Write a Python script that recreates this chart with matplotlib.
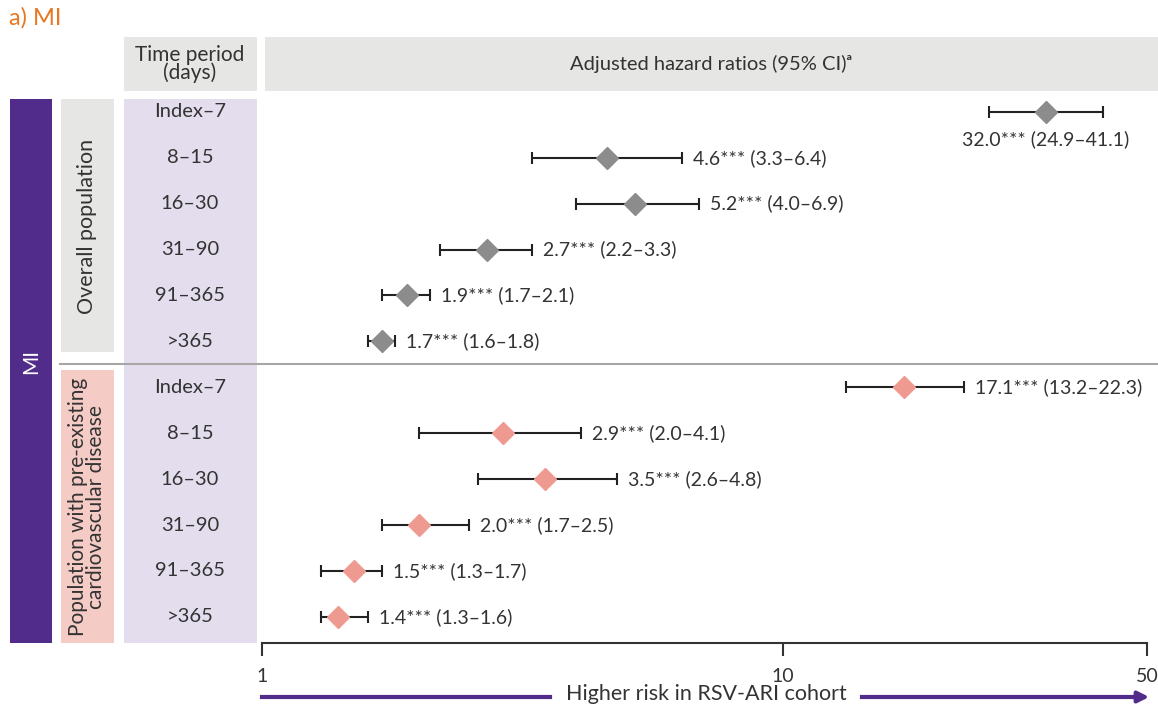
import numpy as np
import matplotlib.pyplot as plt
import matplotlib.transforms as mtrans
from matplotlib.patches import Rectangle

# data
periods = ["Index–7", "8–15", "16–30", "31–90", "91–365", ">365"]
hr_all = [32.0, 4.6, 5.2, 2.7, 1.9, 1.7]
lo_all = [24.9, 3.3, 4.0, 2.2, 1.7, 1.6]
hi_all = [41.1, 6.4, 6.9, 3.3, 2.1, 1.8]
hr_cvd = [17.1, 2.9, 3.5, 2.0, 1.5, 1.4]
lo_cvd = [13.2, 2.0, 2.6, 1.7, 1.3, 1.3]
hi_cvd = [22.3, 4.1, 4.8, 2.5, 1.7, 1.6]
xticks = [1, 10, 50]

W, H = 1158, 706
PURPLE = "#512C8A"
GRAY_BOX = "#E6E6E5"
LAV = "#E3DDEE"
PINK_BOX = "#F5CBC6"
TXT = "#333333"

plt.rcParams['font.family'] = ['Lato', 'DejaVu Sans']

fig = plt.figure(figsize=(W / 100, H / 100), dpi=100)


def fx(x):
    return x / W


def fy(y):
    return 1 - y / H


def box(x0, y0, x1, y1, color):
    fig.add_artist(Rectangle((fx(x0), fy(y1)), fx(x1) - fx(x0), fy(y0) - fy(y1),
                             transform=fig.transFigure, facecolor=color,
                             edgecolor='none', zorder=0))


# background boxes
box(124, 37, 257, 91, GRAY_BOX)
box(265, 37, W, 91, GRAY_BOX)
box(10, 99, 52, 643, PURPLE)
box(61, 99, 114, 352, GRAY_BOX)
box(61, 370, 114, 643, PINK_BOX)
box(124, 99, 257, 643, LAV)

fig.text(fx(9), fy(18), "a) MI", color="#E87722", fontsize=17, va='center')
fig.text(fx(190), fy(64), "Time period\n(days)", ha='center', va='center',
         fontsize=15, color=TXT, linespacing=0.85)
fig.text(fx(711), fy(64), "Adjusted hazard ratios (95% CI)ᵃ", ha='center',
         va='center', fontsize=14.5, color=TXT)
fig.text(fx(31), fy(362), "MI", rotation=90, ha='center', va='center',
         color='white', fontsize=15)
fig.text(fx(87), fy(226), "Overall population", rotation=90, ha='center',
         va='center', fontsize=15.5, color=TXT)
fig.text(fx(87), fy(507), "Population with pre-existing\ncardiovascular disease",
         rotation=90, ha='center', va='center', fontsize=15, color=TXT,
         linespacing=0.85)

# forest plot axes
ax = fig.add_axes([fx(262), fy(643), fx(1147) - fx(262), fy(99) - fy(643)])
ax.set_facecolor('none')
ax.set_xscale('log')
ax.set_xlim(1, 50)
ax.set_ylim(11.57, -0.28)

groups = [(hr_all, lo_all, hi_all, "#8C8C8C", 0),
          (hr_cvd, lo_cvd, hi_cvd, "#EF9A91", 6)]
for hr, lo, hi, col, off in groups:
    ys = np.arange(len(hr)) + off
    hr = np.array(hr)
    err = [hr - np.array(lo), np.array(hi) - hr]
    ax.errorbar(hr, ys, xerr=err, fmt='none', ecolor='#222222', elinewidth=1.5,
                capsize=4.5, capthick=1.5, zorder=2)
    ax.plot(hr, ys, 'D', color=col, markersize=11, zorder=3)
    for i, y in enumerate(ys):
        lab = f"{hr[i]:.1f}*** ({lo[i]:.1f}–{hi[i]:.1f})"
        if hr[i] > 30:
            ax.annotate(lab, xy=(hr[i], y), xytext=(0, -20),
                        textcoords='offset points', ha='center', va='center',
                        fontsize=14, color=TXT)
        else:
            ax.annotate(lab, xy=(hi[i], y), xytext=(8, 0),
                        textcoords='offset points', ha='left', va='center',
                        fontsize=14, color=TXT)

# period labels in the lavender column
trans = mtrans.blended_transform_factory(fig.transFigure, ax.transData)
for y, p in enumerate(periods + periods):
    ax.text(fx(190), y, p, transform=trans, ha='center', va='center',
            fontsize=14.5, color=TXT, clip_on=False)

# separator line
ax.plot([fx(60), 1.0], [5.5, 5.5], transform=trans, color='#A6A6A6', lw=1.5,
        clip_on=False)

for s in ['top', 'right', 'left']:
    ax.spines[s].set_visible(False)
ax.spines['bottom'].set_linewidth(1.5)
ax.spines['bottom'].set_color('#333333')
ax.set_yticks([])
ax.set_xticks(xticks)
ax.set_xticklabels([str(t) for t in xticks])
ax.minorticks_off()
ax.tick_params(axis='x', direction='out', length=9, width=1.5, color='#333333',
               labelsize=14, labelcolor=TXT, pad=9)

# arrow at bottom
ay = fy(697)
fig.add_artist(plt.Line2D([fx(262), fx(550)], [ay, ay], color=PURPLE, lw=3))
fig.add_artist(plt.Line2D([fx(862), fx(1140)], [ay, ay], color=PURPLE, lw=3))
ax.annotate("", xy=(fx(1152), ay), xytext=(fx(1130), ay), xycoords='figure fraction',
            arrowprops=dict(arrowstyle='-|>', color=PURPLE, lw=3, mutation_scale=16))
fig.text(fx(706), fy(694), "Higher risk in RSV-ARI cohort", ha='center',
         va='center', fontsize=15.5, color=TXT)

fig.savefig("out.png", dpi=100)
